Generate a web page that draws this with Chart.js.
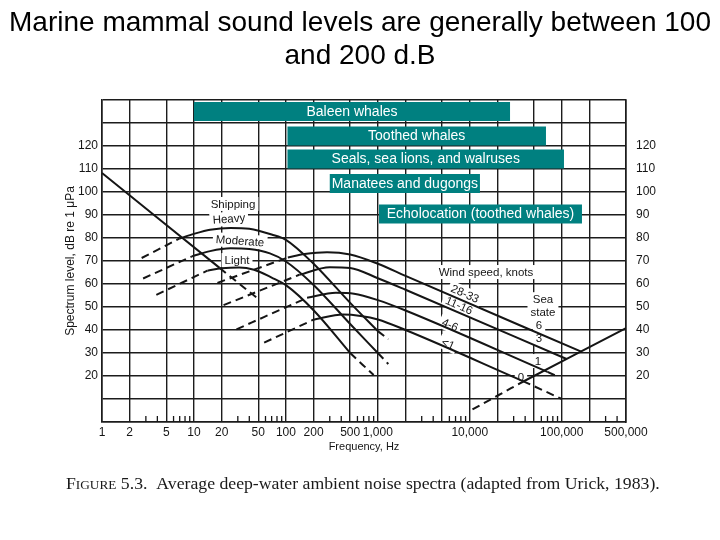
<!DOCTYPE html>
<html>
<head>
<meta charset="utf-8">
<script src="https://cdn.jsdelivr.net/npm/chart.js@4.4.1/dist/chart.umd.min.js"></script>
<style>
  body { margin: 0; background: #fff; }
  #wrap { width: 720px; height: 540px; }
</style>
</head>
<body>
<div id="wrap"><canvas id="grafico" width="720" height="540"></canvas></div>
<script>
// frequencies (Hz) and levels (dB re 1 uPa)

var gridFreqs = [1, 2, 5, 10, 20, 50, 100, 200, 500, 1000, 2000, 5000, 10000, 20000, 50000, 100000, 200000, 500000]
var labeledFreqs = [1, 2, 5, 10, 20, 50, 100, 200, 500, 1000, 10000, 100000, 500000]
var minorFreqs = [3, 4, 6, 7, 8, 9, 30, 40, 60, 70, 80, 90, 300, 400, 600, 700, 800, 900,
    3000, 4000, 6000, 7000, 8000, 9000, 30000, 40000, 60000, 70000, 80000, 90000, 300000, 400000]
var levelTicks = [20, 30, 40, 50, 60, 70, 80, 90, 100, 110, 120]

// animal groups (floating bars)
var groupNames = ['Baleen whales', 'Toothed whales', 'Seals, sea lions, and walruses', 'Manatees and dugongs', 'Echolocation (toothed whales)']
var groupLow = [10, 104, 104, 300, 1030]
var groupHigh = [27400, 67400, 105800, 12900, 166000]
var groupLevel = [135, 124.3, 114.3, 103.7, 90.4]

// turbulence (straight line at low frequency)
var turbSolid = [[1, 108.3], [19, 67]]
var turbDash = [[19, 67], [50, 53.5]]

// shipping
var heavyDash = [[2.7, 71.3], [7, 79.8]]
var heavySolid = [[7, 79.8], [10, 81.8], [15, 83.6], [25, 84.4], [40, 84], [70, 81.5], [100, 79.2], [200, 68.8], [500, 51.8], [1000, 39.5]]
var heavyTail = [[1000, 39.5], [1300, 36]]

var modDash = [[2.8, 62.4], [9.5, 72]]
var modSolid = [[9.5, 72], [15, 74.3], [25, 75.5], [40, 75.2], [67, 73.3], [100, 69.8], [200, 59.6], [500, 42.6], [1000, 30]]
var modTail = [[1000, 30], [1300, 25.2]]

var lightDash = [[3.9, 55.3], [14, 65.8]]
var lightSolid = [[14, 65.8], [20, 66.8], [31, 67.2], [45, 66.2], [70, 62.8], [100, 59.5], [200, 48.6], [500, 30]]
var lightTail = [[500, 30], [900, 20.4]]

// wind / sea state
var ss6Dash = [[18, 60.5], [105, 71.5]]
var ss6Solid = [[105, 71.5], [160, 73], [280, 73.8], [500, 72.8], [1000, 68.8], [2000, 63.5], [163000, 30.6]]

var ss3Dash = [[21, 50.8], [140, 64]]
var ss3Solid = [[140, 64], [300, 67.3], [500, 67], [1000, 62.5], [2000, 57.5], [113000, 27.4]]

var ss1Dash = [[29, 40.3], [170, 54]]
var ss1Solid = [[170, 54], [350, 56.2], [550, 55.8], [1000, 53], [2000, 48.5], [70000, 21.8]]
var ss1Tail = [[70000, 21.8], [92000, 19.6]]

var ss0Dash = [[58, 34.5], [200, 44.5]]
var ss0Solid = [[200, 44.5], [420, 46.7], [650, 46.1], [1000, 44.6], [2000, 40], [37800, 17.8]]
var ss0Tail = [[37800, 17.8], [99000, 10.1]]

// thermal noise
var thermalDash = [[10700, 5.5], [37800, 17.5]]
var thermalSolid = [[37800, 17.5], [500000, 40.8]]


var preto = '#151515'
var teal = '#008080'

function curva(pontos, tracejado) {
    return {
        data: pontos.map(p => ({ x: p[0], y: p[1] })),
        borderColor: preto,
        borderWidth: 2,
        borderDash: tracejado ? [8, 5] : [],
        pointRadius: 0,
        cubicInterpolationMode: 'monotone',
        fill: false
    }
}

var datasets = []
var solidas = [turbSolid, heavySolid, modSolid, lightSolid, ss6Solid, ss3Solid, ss1Solid, ss0Solid, thermalSolid]
var tracejadas = [turbDash, heavyDash, heavyTail, modDash, modTail, lightDash, lightTail,
    ss6Dash, ss3Dash, ss1Dash, ss1Tail, ss0Dash, ss0Tail, thermalDash]
solidas.forEach(c => datasets.push(curva(c, false)))
tracejadas.forEach(c => datasets.push(curva(c, true)))

for (let i = 0; i < groupNames.length; i++) {
    datasets.push({
        data: [{ x: groupLow[i], y: groupLevel[i] }, { x: groupHigh[i], y: groupLevel[i] }],
        borderColor: teal,
        borderWidth: 19,
        borderCapStyle: 'butt',
        pointRadius: 0,
        tension: 0,
        fill: false
    })
}

// text labels on the figure, placed in data coordinates [text, freq, dB, angle]
var rotulos = [
    ['Shipping', 26.6, 94.8, 0],
    ['Heavy', 24, 88.3, -4],
    ['Moderate', 31.7, 78.7, 4],
    ['Light', 29.4, 70.4, 0],
    ['Wind speed, knots', 15000, 65.2, 0],
    ['28-33', 8870, 55.7, 24],
    ['11-16', 7640, 50.6, 24],
    ['4-6', 6090, 42.2, 24],
    ['<1', 5800, 33.9, 24],
    ['Sea', 62500, 53.4, 0],
    ['state', 62500, 47.8, 0],
    ['6', 56600, 42.2, 0],
    ['3', 56600, 36.5, 0],
    ['1', 55200, 26.5, 0],
    ['0', 36000, 19.6, 0]
]

var fonteSans = '"Liberation Sans", Arial, Helvetica, sans-serif'
var fonteSerif = '"Liberation Serif", "Times New Roman", serif'

var extras = {
    id: 'extras',
    beforeDatasetsDraw(chart) {
        const ctx = chart.ctx
        const sx = chart.scales.x
        const sy = chart.scales.y
        const area = chart.chartArea

        // minor tick marks at the bottom of the frame
        ctx.save()
        ctx.strokeStyle = preto
        ctx.lineWidth = 1.3
        minorFreqs.forEach(f => {
            const px = sx.getPixelForValue(f)
            ctx.beginPath()
            ctx.moveTo(px, area.bottom)
            ctx.lineTo(px, area.bottom - 6)
            ctx.stroke()
        })

        // labels with white boxes over the grid
        ctx.font = '11.5px ' + fonteSans
        ctx.textAlign = 'center'
        ctx.textBaseline = 'middle'
        rotulos.forEach(r => {
            const px = sx.getPixelForValue(r[1])
            const py = sy.getPixelForValue(r[2])
            const w = ctx.measureText(r[0]).width
            ctx.save()
            ctx.translate(px, py)
            ctx.rotate(r[3] * Math.PI / 180)
            ctx.fillStyle = '#fff'
            ctx.fillRect(-w / 2 - 3, -7, w + 6, 14)
            ctx.fillStyle = preto
            ctx.fillText(r[0], 0, 0.5)
            ctx.restore()
        })
        ctx.restore()
    },
    afterDatasetsDraw(chart) {
        const ctx = chart.ctx
        const sx = chart.scales.x
        const sy = chart.scales.y
        ctx.save()
        ctx.font = '14px ' + fonteSans
        ctx.fillStyle = '#fff'
        ctx.textAlign = 'center'
        ctx.textBaseline = 'middle'
        for (let i = 0; i < groupNames.length; i++) {
            const cx = (sx.getPixelForValue(groupLow[i]) + sx.getPixelForValue(groupHigh[i])) / 2
            ctx.fillText(groupNames[i], cx, sy.getPixelForValue(groupLevel[i]) + 0.5)
        }
        ctx.restore()
    },
    afterDraw(chart) {
        const ctx = chart.ctx
        ctx.save()
        // title
        ctx.fillStyle = '#000'
        ctx.textAlign = 'center'
        ctx.textBaseline = 'alphabetic'
        ctx.font = '28px ' + fonteSans
        ctx.fillText('Marine mammal sound levels are generally between 100', 360, 31)
        ctx.fillText('and 200 d.B', 360, 64)

        // caption (small caps "FIGURE")
        const partes = [['F', 16], ['IGURE', 12], [' 5.3.  Average deep-water ambient noise spectra (adapted from Urick, 1983).', 16]]
        let total = 0
        partes.forEach(p => { ctx.font = p[1] + 'px ' + fonteSerif; total += ctx.measureText(p[0]).width })
        const escala = 594 / total
        let x = 66
        ctx.textAlign = 'left'
        ctx.fillStyle = '#1a1a1a'
        partes.forEach(p => {
            ctx.font = (p[1] * escala).toFixed(2) + 'px ' + fonteSerif
            ctx.fillText(p[0], x, 489)
            x += ctx.measureText(p[0]).width
        })
        ctx.restore()
    }
}

var gradeCor = '#1c1c1c'
var fonteTick = { family: fonteSans, size: 12 }

const ctx = document.getElementById('grafico').getContext('2d')
var myChart = new Chart(ctx, {
    type: 'line',
    data: { datasets: datasets },
    plugins: [extras],
    options: {
        responsive: false,
        animation: false,
        devicePixelRatio: 1,
        layout: { padding: { left: 60, right: 40, top: 100, bottom: 82 } },
        plugins: {
            legend: { display: false },
            tooltip: { enabled: false },
            title: { display: false }
        },
        scales: {
            x: {
                type: 'logarithmic',
                min: 1,
                max: 500000,
                afterBuildTicks: s => { s.ticks = gridFreqs.map(v => ({ value: v })) },
                afterFit: s => { s.height = 36 },
                ticks: {
                    autoSkip: false,
                    maxRotation: 0,
                    padding: 3,
                    color: preto,
                    font: fonteTick,
                    callback: v => labeledFreqs.includes(v) ? v.toLocaleString('en-US') : ''
                },
                grid: { color: gradeCor, lineWidth: 1.4, drawTicks: false },
                border: { color: gradeCor, width: 1.6 },
                title: { display: true, text: 'Frequency, Hz', color: preto, font: { family: fonteSans, size: 11 }, padding: 4 }
            },
            y: {
                min: 0,
                max: 140,
                afterBuildTicks: s => { s.ticks = []; for (let v = 0; v <= 140; v += 10) s.ticks.push({ value: v }) },
                afterFit: s => { s.width = 42 },
                ticks: {
                    padding: 4,
                    color: preto,
                    font: fonteTick,
                    callback: v => levelTicks.includes(v) ? v : ''
                },
                grid: { color: gradeCor, lineWidth: 1.4, drawTicks: false },
                border: { color: gradeCor, width: 1.6 },
                title: { display: true, text: 'Spectrum level, dB re 1 \u03bcPa', color: preto, font: { family: fonteSans, size: 12 }, padding: 3 }
            },
            y2: {
                position: 'right',
                display: true,
                min: 0,
                max: 140,
                afterBuildTicks: s => { s.ticks = []; for (let v = 0; v <= 140; v += 10) s.ticks.push({ value: v }) },
                afterFit: s => { s.width = 54 },
                ticks: {
                    padding: 10,
                    color: preto,
                    font: fonteTick,
                    callback: v => levelTicks.includes(v) ? v : ''
                },
                grid: { display: false, drawTicks: false },
                border: { color: gradeCor, width: 1.6 }
            }
        }
    }
})
</script>
</body>
</html>
